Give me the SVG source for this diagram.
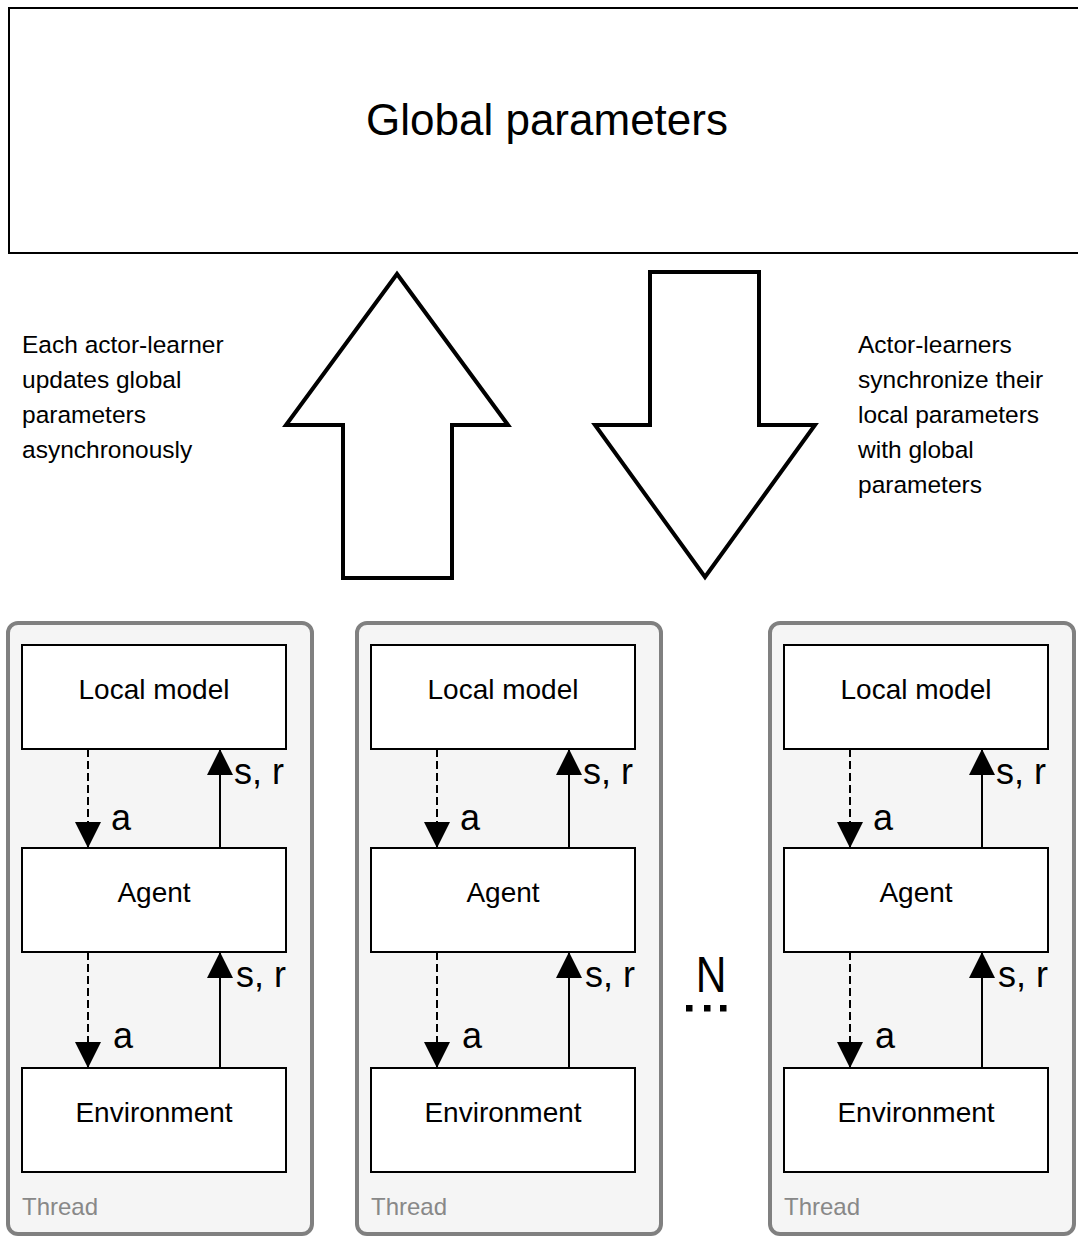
<svg xmlns="http://www.w3.org/2000/svg" width="1078" height="1237" viewBox="0 0 1078 1237">
  <style>
    text { font-family: "Liberation Sans", Arial, Helvetica, sans-serif; fill: #000; }
    .box { fill: #fff; stroke: #000; stroke-width: 2; }
    .thread { fill: #f5f5f5; stroke: #808080; stroke-width: 4; }
    .big { fill: #fff; stroke: #000; stroke-width: 4; stroke-linejoin: miter; stroke-miterlimit: 10; }
    .lbl { font-size: 28px; text-anchor: middle; }
    .edge { font-size: 36px; }
    .note { font-size: 24.5px; }
    .tname { font-size: 24px; fill: #888888; }
    .act { stroke: #000; stroke-width: 2; stroke-dasharray: 8 4; fill: none; }
    .obs { stroke: #000; stroke-width: 2; fill: none; }
  </style>
  <defs>
    <marker id="head" markerUnits="userSpaceOnUse" markerWidth="26" markerHeight="26" viewBox="0 0 24 24" refX="24" refY="12" orient="auto">
      <path d="M0,0 L24,12 L0,24 Z" fill="#000"/>
    </marker>
    <!-- one actor-learner thread: local model, agent, environment -->
    <g id="threadTpl">
      <rect class="thread" x="0" y="0" width="304" height="611" rx="10" ry="10"/>
      <rect class="box" x="14" y="22" width="264" height="104"/>
      <text class="lbl" x="146" y="76">Local model</text>
      <rect class="box" x="14" y="225" width="264" height="104"/>
      <text class="lbl" x="146" y="279">Agent</text>
      <rect class="box" x="14" y="445" width="264" height="104"/>
      <text class="lbl" x="146" y="499">Environment</text>
      <text class="tname" x="14" y="592">Thread</text>
      <line class="act" x1="80" y1="126" x2="80" y2="225" marker-end="url(#head)"/>
      <line class="obs" x1="212" y1="225" x2="212" y2="126" marker-end="url(#head)"/>
      <line class="act" x1="80" y1="329" x2="80" y2="445" marker-end="url(#head)"/>
      <line class="obs" x1="212" y1="445" x2="212" y2="329" marker-end="url(#head)"/>
      <text class="edge" x="103" y="207">a</text>
      <text class="edge" x="226" y="161">s, r</text>
      <text class="edge" x="105" y="425">a</text>
      <text class="edge" x="228" y="364">s, r</text>
    </g>
  </defs>

  <g id="global-parameters">
    <rect class="box" x="9" y="8" width="1080" height="245"/>
    <text x="547" y="135" font-size="44" text-anchor="middle">Global parameters</text>
  </g>

  <g id="push-arrow">
    <polygon class="big" points="397,274 286,425 343,425 343,578 452,578 452,425 508,425"/>
  </g>
  <g id="pull-arrow">
    <polygon class="big" points="650,272 759,272 759,425 815,425 705,577 595,425 650,425"/>
  </g>

  <g id="note-update">
    <text class="note" x="22" y="353">Each actor-learner</text>
    <text class="note" x="22" y="388">updates global</text>
    <text class="note" x="22" y="423">parameters</text>
    <text class="note" x="22" y="458">asynchronously</text>
  </g>
  <g id="note-sync">
    <text class="note" x="858" y="353">Actor-learners</text>
    <text class="note" x="858" y="388">synchronize their</text>
    <text class="note" x="858" y="423">local parameters</text>
    <text class="note" x="858" y="458">with global</text>
    <text class="note" x="858" y="493">parameters</text>
  </g>

  <g id="thread-1" transform="translate(8,623)"><use href="#threadTpl"/></g>
  <g id="thread-2" transform="translate(357,623)"><use href="#threadTpl"/></g>
  <g id="thread-3" transform="translate(770,623)"><use href="#threadTpl"/></g>

  <g id="n-threads">
    <text x="711" y="992" font-size="50" text-anchor="middle" transform="translate(711,0) scale(0.85,1) translate(-711,0)">N</text>
    <rect x="686" y="1005" width="6.5" height="6.5" fill="#000"/>
    <rect x="704" y="1005" width="6.5" height="6.5" fill="#000"/>
    <rect x="720" y="1005" width="6.5" height="6.5" fill="#000"/>
  </g>
</svg>
